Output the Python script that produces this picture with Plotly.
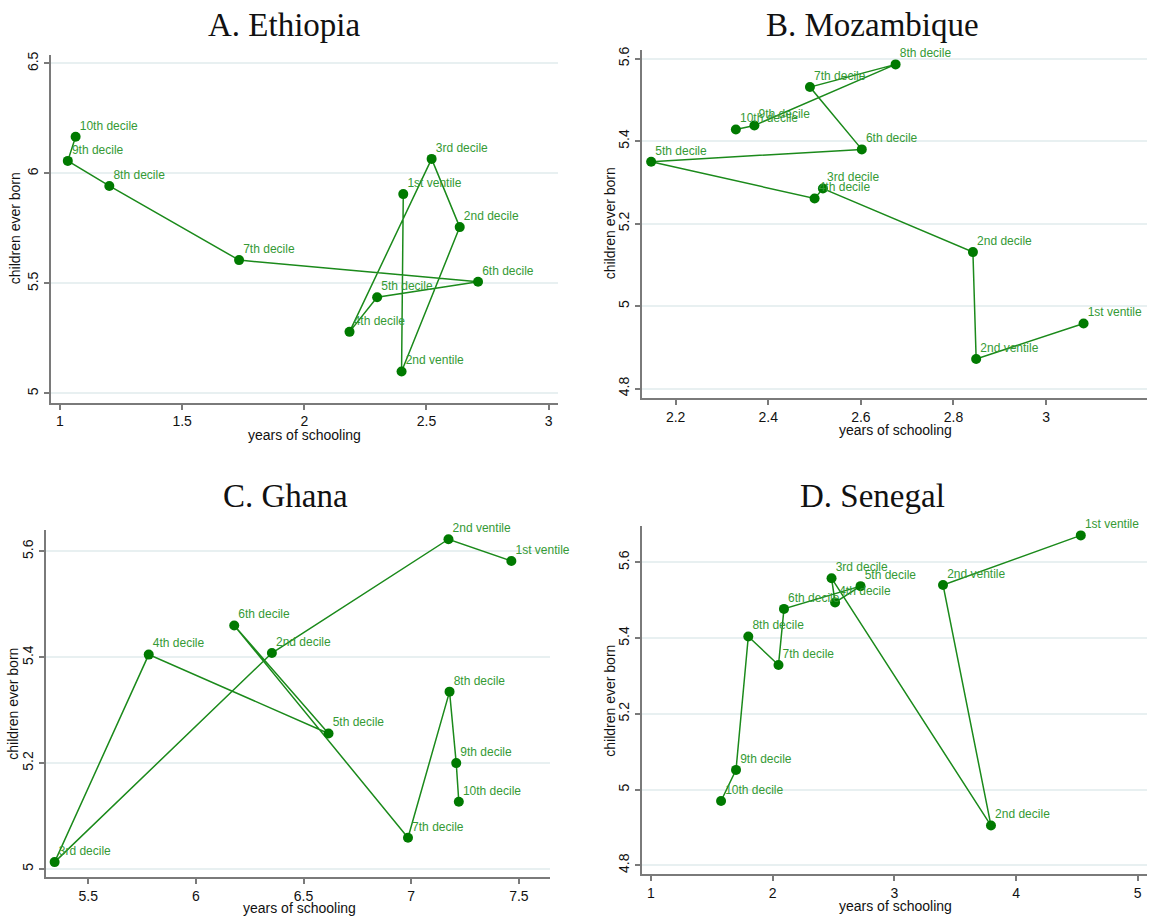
import plotly.graph_objects as go

# Group labels (income ventiles / deciles), same order for every country
labels = ["1st ventile", "2nd ventile", "2nd decile", "3rd decile", "4th decile",
          "5th decile", "6th decile", "7th decile", "8th decile", "9th decile",
          "10th decile"]

# A. Ethiopia
eth_school = [2.405, 2.398, 2.636, 2.521, 2.185, 2.298, 2.711, 1.733, 1.202, 1.032, 1.064]
eth_births = [5.906, 5.100, 5.756, 6.066, 5.280, 5.437, 5.508, 5.606, 5.943, 6.057, 6.167]

# B. Mozambique
moz_school = [3.081, 2.849, 2.842, 2.518, 2.500, 2.147, 2.602, 2.490, 2.675, 2.370, 2.330]
moz_births = [4.958, 4.872, 5.131, 5.285, 5.261, 5.350, 5.380, 5.531, 5.586, 5.438, 5.428]

# C. Ghana
gha_school = [7.465, 7.173, 6.353, 5.344, 5.781, 6.616, 6.178, 6.985, 7.178, 7.209, 7.221]
gha_births = [5.582, 5.623, 5.408, 5.013, 5.405, 5.256, 5.460, 5.059, 5.335, 5.200, 5.127]

# D. Senegal
sen_school = [4.532, 3.400, 3.794, 2.484, 2.513, 2.722, 2.093, 2.048, 1.800, 1.699, 1.576]
sen_births = [5.671, 5.540, 4.905, 5.558, 5.494, 5.537, 5.477, 5.329, 5.404, 5.052, 4.970]

titles = ["A. Ethiopia", "B. Mozambique", "C. Ghana", "D. Senegal"]
x_ticks = [[1, 1.5, 2, 2.5, 3], [2.2, 2.4, 2.6, 2.8, 3], [5.5, 6, 6.5, 7, 7.5], [1, 2, 3, 4, 5]]
y_ticks = [[5, 5.5, 6, 6.5], [4.8, 5, 5.2, 5.4, 5.6], [5, 5.2, 5.4, 5.6], [4.8, 5, 5.2, 5.4, 5.6]]

W, H = 1151, 922

panels = [
    dict(x=eth_school, y=eth_births, xr=[0.962, 3.037], yr=[4.958, 6.539],
         px=(50.7, 557.7), py=(52, 401)),
    dict(x=moz_school, y=moz_births, xr=[2.1266, 3.218], yr=[4.778, 5.622],
         px=(641.7, 1147), py=(46.7, 396)),
    dict(x=gha_school, y=gha_births, xr=[5.304, 7.644], yr=[4.984, 5.641],
         px=(46, 549.9), py=(528.4, 877.3)),
    dict(x=sen_school, y=sen_births, xr=[0.924, 5.076], yr=[4.776, 5.695],
         px=(641.7, 1147), py=(525, 874.3)),
]

# Title, x-title and y-title positions in pixels
title_pos = [(284, 22), (872, 22), (285, 495), (872, 495)]
xtitle_pos = [(304, 433), (895, 428), (299, 908), (895, 906)]
ytitle_pos = [(15, 226), (610, 221), (13, 703), (610, 700)]

MARKER = "#007a00"
LINE = "#1b8a1b"
TEXT = "#359a35"
AXIS = "#7a7a7a"
GRID = "#e8f0f1"
SANS = "Liberation Sans, Arial, sans-serif"
SERIF = "Liberation Serif, Times New Roman, serif"

fig = go.Figure()
layout = dict(width=W, height=H, margin=dict(l=0, r=0, t=0, b=0),
              paper_bgcolor="white", plot_bgcolor="white", showlegend=False,
              annotations=[])

for i, p in enumerate(panels):
    k = "" if i == 0 else str(i + 1)
    # connected markers
    fig.add_trace(go.Scatter(
        x=p["x"], y=p["y"], mode="lines+markers",
        line=dict(color=LINE, width=1.5),
        marker=dict(color=MARKER, size=10),
        xaxis="x" + k, yaxis="y" + k, hoverinfo="skip"))
    # group labels just above-right of each marker
    fig.add_trace(go.Scatter(
        x=p["x"], y=p["y"], text=labels, mode="markers+text",
        textposition="top right", cliponaxis=False,
        textfont=dict(family=SANS, size=12, color=TEXT),
        marker=dict(size=5, opacity=0),
        xaxis="x" + k, yaxis="y" + k, hoverinfo="skip"))

    x0, x1 = p["px"]
    y0, y1 = p["py"]
    layout["xaxis" + k] = dict(
        domain=[x0 / W, x1 / W], range=p["xr"], anchor="y" + k,
        tickvals=x_ticks[i], ticks="outside", ticklen=5, tickwidth=1.5,
        tickcolor=AXIS, showline=True, linecolor=AXIS, linewidth=2,
        showgrid=False, zeroline=False,
        tickfont=dict(family=SANS, size=14, color="#111"))
    layout["yaxis" + k] = dict(
        domain=[(H - y1) / H, (H - y0) / H], range=p["yr"], anchor="x" + k,
        tickvals=y_ticks[i], ticks="outside", ticklen=5, tickwidth=1.5,
        tickcolor=AXIS, showline=True, linecolor=AXIS, linewidth=2,
        showgrid=True, gridcolor=GRID, gridwidth=1.5, zeroline=False,
        tickangle=-90,
        tickfont=dict(family=SANS, size=14, color="#111"))

    tx, ty = title_pos[i]
    layout["annotations"].append(dict(
        text=titles[i], x=tx / W, y=1 - ty / H, xref="paper", yref="paper",
        showarrow=False, xanchor="center", yanchor="middle",
        font=dict(family=SERIF, size=33, color="#111")))
    ax, ay = xtitle_pos[i]
    layout["annotations"].append(dict(
        text="years of schooling", x=ax / W, y=1 - ay / H, xref="paper",
        yref="paper", showarrow=False, xanchor="center", yanchor="middle",
        font=dict(family=SANS, size=14, color="#111")))
    bx, by = ytitle_pos[i]
    layout["annotations"].append(dict(
        text="children ever born", x=bx / W, y=1 - by / H, xref="paper",
        yref="paper", showarrow=False, xanchor="center", yanchor="middle",
        textangle=-90, font=dict(family=SANS, size=14, color="#111")))

fig.update_layout(**layout)
fig.write_html("out.html")
